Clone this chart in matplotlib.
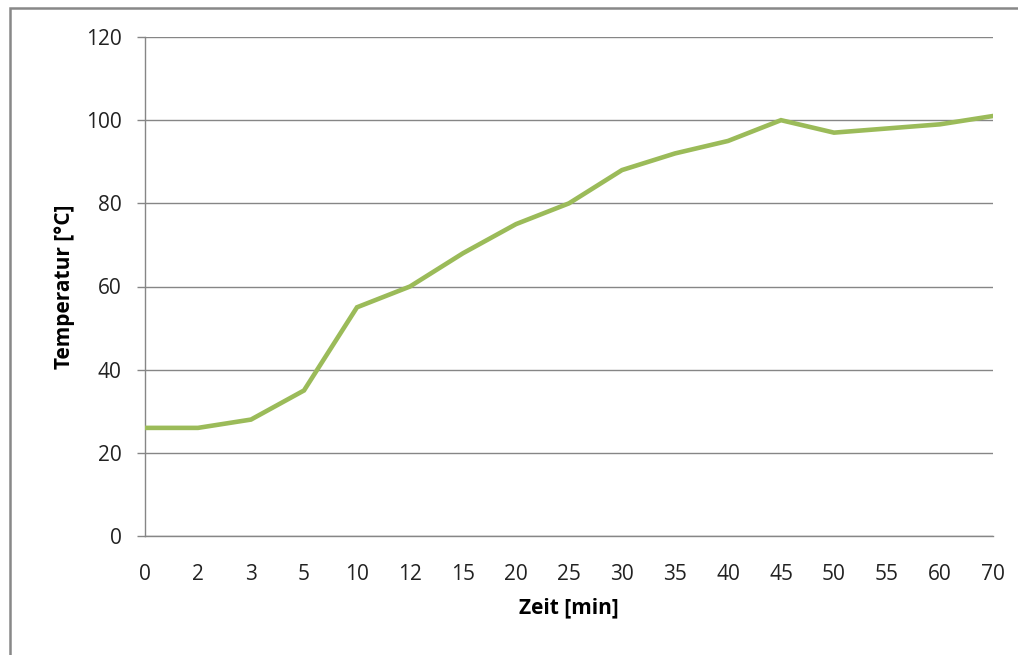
import matplotlib.pyplot as plt
from matplotlib.patches import Rectangle

# data
zeit = ['0', '2', '3', '5', '10', '12', '15', '20', '25', '30', '35', '40', '45', '50', '55', '60', '70']
temp = [26, 26, 28, 35, 55, 60, 68, 75, 80, 88, 92, 95, 100, 97, 98, 99, 101]
y_ticks = [0, 20, 40, 60, 80, 100, 120]

plt.rcParams['font.family'] = ['Open Sans', 'DejaVu Sans']

W, H = 1018, 655
fig = plt.figure(figsize=(W / 100, H / 100), dpi=100)
ax = fig.add_axes([145 / W, 1 - 536 / H, (993 - 145) / W, (536 - 37) / H])

grid_c = '#868686'
x = list(range(len(zeit)))
ax.plot(x, temp, color='#9bbb59', lw=3.3, solid_joinstyle='miter', zorder=3)

ax.set_xlim(0, len(zeit) - 1)
ax.set_ylim(0, 120)
ax.set_yticks(y_ticks)
ax.set_xticks(x)
ax.set_xticklabels(zeit)
ax.set_xticks(x[::5], minor=True)
ax.tick_params(axis='x', which='major', length=0, pad=20, labelsize=15, colors='#222222')
ax.tick_params(axis='x', which='minor', length=6, width=1, color=grid_c, direction='out')
ax.tick_params(axis='y', length=6, width=1, color=grid_c, pad=11, labelsize=15, labelcolor='#222222')

ax.grid(axis='y', color=grid_c, lw=1)
ax.set_axisbelow(True)
for s in ['top', 'right']:
    ax.spines[s].set_visible(False)
for s in ['left', 'bottom']:
    ax.spines[s].set_color(grid_c)
    ax.spines[s].set_linewidth(1)

ax.set_xlabel('Zeit [min]', fontsize=15, fontweight='bold', labelpad=9)
ax.set_ylabel('Temperatur [°C]', fontsize=15, fontweight='bold', labelpad=8)

# chart area border
fig.patches.append(Rectangle((10 / W, -0.05), 1.2, 1 - 8 / H + 0.05, transform=fig.transFigure,
                             fill=False, edgecolor='#888888', lw=1.8))

fig.savefig('out.png', dpi=100)
